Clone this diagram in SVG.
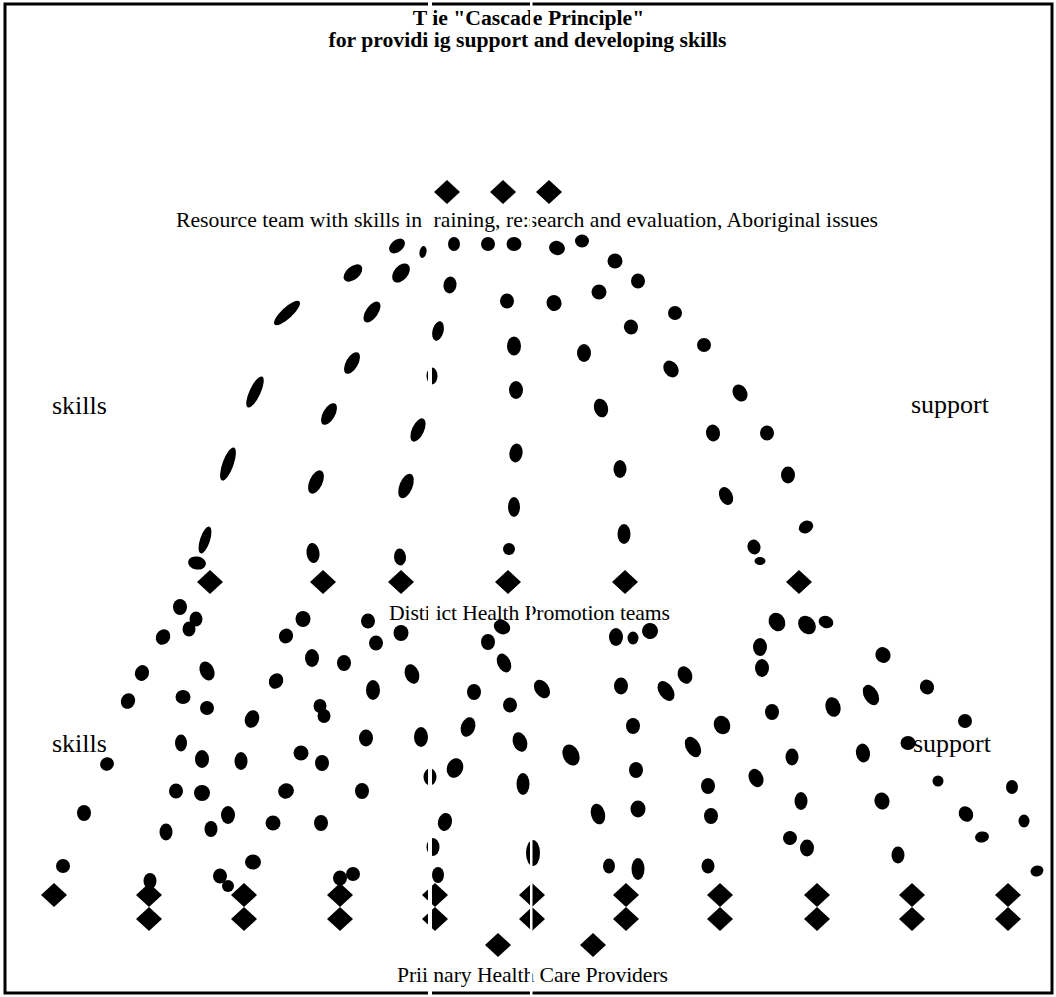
<svg xmlns="http://www.w3.org/2000/svg" xmlns:xlink="http://www.w3.org/1999/xlink" width="1056" height="997" viewBox="0 0 1056 997">
<style>
.t{font-family:"Liberation Serif","Times New Roman",serif;font-size:21.7px;fill:#000}
.bd{font-weight:bold}
.s{font-family:"Liberation Serif","Times New Roman",serif;font-size:26px;fill:#000}
.dots ellipse{fill:#000}
.dm{fill:#000}
.art{fill:#fff}
</style>
<defs>
<path id="dia" d="M0,-12 L13,0 L0,12 L-13,0Z"/>
</defs>
<rect x="5" y="4" width="1047" height="989" fill="#fff" stroke="#000" stroke-width="3"/>
<g id="title">
<text class="t bd" x="528.5" y="25" text-anchor="middle">T ie "Cascade Principle"</text>
<text class="t bd" x="527.5" y="47" text-anchor="middle">for providi ig support and developing skills</text>
</g>
<g id="connectors" class="dots">
<ellipse cx="397" cy="246" rx="9" ry="6" transform="rotate(-40 397 246)"/>
<ellipse cx="423" cy="252" rx="3.5" ry="6" transform="rotate(10 423 252)"/>
<ellipse cx="454" cy="244" rx="6" ry="7"/>
<ellipse cx="488" cy="244" rx="7" ry="7"/>
<ellipse cx="514" cy="244" rx="7.5" ry="7"/>
<ellipse cx="557" cy="248" rx="8" ry="7" transform="rotate(20 557 248)"/>
<ellipse cx="582" cy="241" rx="7" ry="6.5"/>
<ellipse cx="353" cy="273" rx="11" ry="6.5" transform="rotate(-40 353 273)"/>
<ellipse cx="401" cy="273" rx="11" ry="7" transform="rotate(-50 401 273)"/>
<ellipse cx="450" cy="285" rx="6.5" ry="8.5" transform="rotate(10 450 285)"/>
<ellipse cx="507" cy="301" rx="7" ry="7.5"/>
<ellipse cx="554" cy="303" rx="7.5" ry="8" transform="rotate(-20 554 303)"/>
<ellipse cx="599" cy="292" rx="7.5" ry="7.5"/>
<ellipse cx="615" cy="261" rx="7.5" ry="7.5"/>
<ellipse cx="638" cy="281" rx="7" ry="7.5"/>
<ellipse cx="287" cy="313" rx="17" ry="5.5" transform="rotate(-43 287 313)"/>
<ellipse cx="372" cy="312" rx="12" ry="6" transform="rotate(-55 372 312)"/>
<ellipse cx="438" cy="331" rx="5.5" ry="10" transform="rotate(15 438 331)"/>
<ellipse cx="514" cy="346" rx="7" ry="9.5"/>
<ellipse cx="584" cy="353" rx="7" ry="9"/>
<ellipse cx="631" cy="327" rx="7" ry="7.5" transform="rotate(-20 631 327)"/>
<ellipse cx="675" cy="313" rx="7" ry="7"/>
<ellipse cx="704" cy="345" rx="7" ry="7"/>
<ellipse cx="352" cy="363" rx="12" ry="6" transform="rotate(-60 352 363)"/>
<ellipse cx="432" cy="376" rx="5.5" ry="8.5"/>
<ellipse cx="516" cy="390" rx="7" ry="9"/>
<ellipse cx="671" cy="369" rx="7" ry="9" transform="rotate(-35 671 369)"/>
<ellipse cx="740" cy="393" rx="7" ry="9" transform="rotate(-30 740 393)"/>
<ellipse cx="255" cy="392" rx="17" ry="5.5" transform="rotate(-65 255 392)"/>
<ellipse cx="329" cy="414" rx="12" ry="6" transform="rotate(-60 329 414)"/>
<ellipse cx="601" cy="408" rx="7" ry="9.5" transform="rotate(-15 601 408)"/>
<ellipse cx="713" cy="433" rx="7" ry="8.5" transform="rotate(-10 713 433)"/>
<ellipse cx="767" cy="433" rx="7" ry="7.5"/>
<ellipse cx="418" cy="430" rx="12.5" ry="6" transform="rotate(-65 418 430)"/>
<ellipse cx="516" cy="453" rx="6.5" ry="9.5" transform="rotate(10 516 453)"/>
<ellipse cx="228" cy="464" rx="17.5" ry="5.5" transform="rotate(-70 228 464)"/>
<ellipse cx="316" cy="482" rx="12.5" ry="6.5" transform="rotate(-65 316 482)"/>
<ellipse cx="406" cy="486" rx="13" ry="6.5" transform="rotate(-68 406 486)"/>
<ellipse cx="620" cy="469" rx="6.5" ry="9"/>
<ellipse cx="788" cy="475" rx="7" ry="8.5"/>
<ellipse cx="726" cy="496" rx="6.5" ry="9.5" transform="rotate(-25 726 496)"/>
<ellipse cx="514" cy="507" rx="6" ry="10"/>
<ellipse cx="806" cy="527" rx="7.5" ry="6" transform="rotate(-30 806 527)"/>
<ellipse cx="624" cy="534" rx="6.5" ry="10"/>
<ellipse cx="205" cy="540" rx="14" ry="5" transform="rotate(-72 205 540)"/>
<ellipse cx="313" cy="553" rx="6.5" ry="10" transform="rotate(-8 313 553)"/>
<ellipse cx="400" cy="557" rx="6" ry="8.5" transform="rotate(-5 400 557)"/>
<ellipse cx="509" cy="549" rx="6" ry="6"/>
<ellipse cx="754" cy="547" rx="6.5" ry="7.5" transform="rotate(-15 754 547)"/>
<ellipse cx="760" cy="561" rx="5.5" ry="4"/>
<ellipse cx="197" cy="563" rx="9" ry="6.5" transform="rotate(10 197 563)"/>
<ellipse cx="180" cy="607" rx="7" ry="8"/>
<ellipse cx="196" cy="619" rx="6.5" ry="7.5"/>
<ellipse cx="189" cy="629" rx="6.5" ry="7.5"/>
<ellipse cx="163" cy="637" rx="7" ry="8" transform="rotate(30 163 637)"/>
<ellipse cx="303" cy="619" rx="7.5" ry="8"/>
<ellipse cx="286" cy="636" rx="7" ry="7.5" transform="rotate(30 286 636)"/>
<ellipse cx="142" cy="673" rx="7" ry="8" transform="rotate(20 142 673)"/>
<ellipse cx="207" cy="671" rx="7" ry="10" transform="rotate(-25 207 671)"/>
<ellipse cx="312" cy="658" rx="7" ry="9"/>
<ellipse cx="344" cy="663" rx="7" ry="8"/>
<ellipse cx="276" cy="681" rx="7" ry="8" transform="rotate(30 276 681)"/>
<ellipse cx="128" cy="701" rx="7" ry="8" transform="rotate(25 128 701)"/>
<ellipse cx="183" cy="697" rx="7.5" ry="7"/>
<ellipse cx="207" cy="708" rx="7" ry="7"/>
<ellipse cx="252" cy="719" rx="7" ry="9" transform="rotate(20 252 719)"/>
<ellipse cx="320" cy="706" rx="6.5" ry="7"/>
<ellipse cx="324" cy="716" rx="6.5" ry="7"/>
<ellipse cx="181" cy="743" rx="6" ry="8.5"/>
<ellipse cx="202" cy="759" rx="7" ry="9"/>
<ellipse cx="241" cy="761" rx="6.5" ry="9"/>
<ellipse cx="301" cy="753" rx="7.5" ry="7.5"/>
<ellipse cx="322" cy="763" rx="7" ry="8"/>
<ellipse cx="107" cy="764" rx="7" ry="6.5" transform="rotate(-30 107 764)"/>
<ellipse cx="176" cy="791" rx="7" ry="7.5"/>
<ellipse cx="202" cy="793" rx="8" ry="8"/>
<ellipse cx="286" cy="791" rx="8" ry="7.5" transform="rotate(-30 286 791)"/>
<ellipse cx="362" cy="791" rx="7" ry="8"/>
<ellipse cx="84" cy="813" rx="7" ry="8"/>
<ellipse cx="166" cy="832" rx="6.5" ry="8.5"/>
<ellipse cx="211" cy="829" rx="6.5" ry="8"/>
<ellipse cx="228" cy="815" rx="7" ry="9"/>
<ellipse cx="273" cy="823" rx="7.5" ry="7.5"/>
<ellipse cx="321" cy="823" rx="7" ry="8"/>
<ellipse cx="63" cy="866" rx="7" ry="7"/>
<ellipse cx="253" cy="862" rx="8" ry="7.5"/>
<ellipse cx="150" cy="881" rx="6.5" ry="8"/>
<ellipse cx="220" cy="876" rx="7" ry="7.5"/>
<ellipse cx="228" cy="886" rx="6" ry="6"/>
<ellipse cx="340" cy="878" rx="7" ry="7.5"/>
<ellipse cx="353" cy="874" rx="7" ry="7"/>
<ellipse cx="368" cy="621" rx="7" ry="7.5"/>
<ellipse cx="401" cy="633" rx="7.5" ry="8"/>
<ellipse cx="376" cy="643" rx="7" ry="7.5"/>
<ellipse cx="412" cy="674" rx="7" ry="10" transform="rotate(-20 412 674)"/>
<ellipse cx="373" cy="690" rx="7" ry="10"/>
<ellipse cx="502" cy="627" rx="8.5" ry="7" transform="rotate(30 502 627)"/>
<ellipse cx="488" cy="642" rx="7" ry="8"/>
<ellipse cx="504" cy="663" rx="6.5" ry="10" transform="rotate(-25 504 663)"/>
<ellipse cx="474" cy="692" rx="7" ry="8"/>
<ellipse cx="542" cy="689" rx="7" ry="10" transform="rotate(-35 542 689)"/>
<ellipse cx="510" cy="705" rx="7" ry="7.5"/>
<ellipse cx="616" cy="637" rx="7" ry="9"/>
<ellipse cx="633" cy="638" rx="5.5" ry="6.5"/>
<ellipse cx="650" cy="631" rx="8" ry="8" transform="rotate(-30 650 631)"/>
<ellipse cx="621" cy="686" rx="7" ry="8.5"/>
<ellipse cx="666" cy="691" rx="7" ry="11" transform="rotate(-35 666 691)"/>
<ellipse cx="685" cy="675" rx="7" ry="9" transform="rotate(-25 685 675)"/>
<ellipse cx="366" cy="738" rx="7" ry="8.5"/>
<ellipse cx="421" cy="737" rx="7" ry="10"/>
<ellipse cx="468" cy="727" rx="7" ry="10" transform="rotate(20 468 727)"/>
<ellipse cx="520" cy="742" rx="7" ry="10" transform="rotate(-20 520 742)"/>
<ellipse cx="571" cy="755" rx="8" ry="11" transform="rotate(-25 571 755)"/>
<ellipse cx="633" cy="726" rx="7" ry="8"/>
<ellipse cx="693" cy="747" rx="7" ry="11" transform="rotate(-30 693 747)"/>
<ellipse cx="430" cy="777" rx="6.5" ry="8.5"/>
<ellipse cx="455" cy="768" rx="8" ry="10" transform="rotate(20 455 768)"/>
<ellipse cx="523" cy="784" rx="6.5" ry="11"/>
<ellipse cx="636" cy="770" rx="7" ry="8"/>
<ellipse cx="445" cy="822" rx="7" ry="9" transform="rotate(15 445 822)"/>
<ellipse cx="598" cy="814" rx="7" ry="10.5" transform="rotate(-15 598 814)"/>
<ellipse cx="638" cy="809" rx="7.5" ry="8.5"/>
<ellipse cx="433" cy="847" rx="6.5" ry="9"/>
<ellipse cx="533" cy="853" rx="7" ry="13"/>
<ellipse cx="609" cy="866" rx="6" ry="7.5"/>
<ellipse cx="638" cy="869" rx="6.5" ry="11"/>
<ellipse cx="438" cy="875" rx="6" ry="8"/>
<ellipse cx="777" cy="622" rx="8" ry="9.5" transform="rotate(-30 777 622)"/>
<ellipse cx="807" cy="625" rx="8" ry="10" transform="rotate(-40 807 625)"/>
<ellipse cx="826" cy="622" rx="7.5" ry="6" transform="rotate(20 826 622)"/>
<ellipse cx="760" cy="647" rx="7" ry="9"/>
<ellipse cx="762" cy="668" rx="7" ry="9"/>
<ellipse cx="883" cy="655" rx="7.5" ry="8" transform="rotate(-30 883 655)"/>
<ellipse cx="871" cy="695" rx="7" ry="11" transform="rotate(-30 871 695)"/>
<ellipse cx="927" cy="687" rx="7" ry="7.5" transform="rotate(-30 927 687)"/>
<ellipse cx="772" cy="712" rx="7" ry="8"/>
<ellipse cx="833" cy="707" rx="7.5" ry="10" transform="rotate(-15 833 707)"/>
<ellipse cx="722" cy="725" rx="8" ry="9.5" transform="rotate(-25 722 725)"/>
<ellipse cx="965" cy="721" rx="7" ry="7"/>
<ellipse cx="792" cy="757" rx="6.5" ry="8.5"/>
<ellipse cx="863" cy="753" rx="7" ry="9.5" transform="rotate(-10 863 753)"/>
<ellipse cx="908" cy="743" rx="7.5" ry="7"/>
<ellipse cx="756" cy="778" rx="7" ry="9.5" transform="rotate(-25 756 778)"/>
<ellipse cx="708" cy="786" rx="7" ry="8"/>
<ellipse cx="801" cy="801" rx="6.5" ry="9"/>
<ellipse cx="882" cy="801" rx="7.5" ry="8.5" transform="rotate(-15 882 801)"/>
<ellipse cx="938" cy="781" rx="5.5" ry="5.5"/>
<ellipse cx="1012" cy="787" rx="6" ry="7"/>
<ellipse cx="711" cy="816" rx="7" ry="8"/>
<ellipse cx="966" cy="814" rx="7" ry="8" transform="rotate(-30 966 814)"/>
<ellipse cx="1024" cy="821" rx="5.5" ry="6.5"/>
<ellipse cx="790" cy="838" rx="7" ry="7" transform="rotate(-30 790 838)"/>
<ellipse cx="807" cy="848" rx="7" ry="8.5"/>
<ellipse cx="982" cy="837" rx="7" ry="5.5" transform="rotate(-10 982 837)"/>
<ellipse cx="898" cy="855" rx="6.5" ry="8.5"/>
<ellipse cx="708" cy="866" rx="6.5" ry="7.5"/>
<ellipse cx="1037" cy="871" rx="6.5" ry="5.5" transform="rotate(-15 1037 871)"/>
</g>
<g id="resource-team">
<use xlink:href="#dia" class="dm" x="447" y="192"/>
<use xlink:href="#dia" class="dm" x="503" y="192"/>
<use xlink:href="#dia" class="dm" x="549" y="192"/>
<text class="t" x="176" y="227" textLength="702" lengthAdjust="spacing">Resource team with skills in :raining, re:search and evaluation, Aboriginal issues</text>
</g>
<g id="district-teams">
<use xlink:href="#dia" class="dm" x="210" y="582"/>
<use xlink:href="#dia" class="dm" x="323" y="582"/>
<use xlink:href="#dia" class="dm" x="401" y="582"/>
<use xlink:href="#dia" class="dm" x="508" y="582"/>
<use xlink:href="#dia" class="dm" x="625" y="582"/>
<use xlink:href="#dia" class="dm" x="799" y="582"/>
<text class="t" x="389" y="620" textLength="281" lengthAdjust="spacing">Disti ict Health Promotion teams</text>
</g>
<g id="primary-providers">
<use xlink:href="#dia" class="dm" x="54" y="895"/>
<use xlink:href="#dia" class="dm" x="149" y="895"/>
<use xlink:href="#dia" class="dm" x="244" y="895"/>
<use xlink:href="#dia" class="dm" x="340" y="895"/>
<use xlink:href="#dia" class="dm" x="435" y="895"/>
<use xlink:href="#dia" class="dm" x="532" y="895"/>
<use xlink:href="#dia" class="dm" x="626" y="895"/>
<use xlink:href="#dia" class="dm" x="720" y="895"/>
<use xlink:href="#dia" class="dm" x="817" y="895"/>
<use xlink:href="#dia" class="dm" x="912" y="895"/>
<use xlink:href="#dia" class="dm" x="1008" y="895"/>
<use xlink:href="#dia" class="dm" x="149" y="919"/>
<use xlink:href="#dia" class="dm" x="244" y="919"/>
<use xlink:href="#dia" class="dm" x="340" y="919"/>
<use xlink:href="#dia" class="dm" x="435" y="919"/>
<use xlink:href="#dia" class="dm" x="532" y="919"/>
<use xlink:href="#dia" class="dm" x="626" y="919"/>
<use xlink:href="#dia" class="dm" x="720" y="919"/>
<use xlink:href="#dia" class="dm" x="817" y="919"/>
<use xlink:href="#dia" class="dm" x="912" y="919"/>
<use xlink:href="#dia" class="dm" x="1008" y="919"/>
<use xlink:href="#dia" class="dm" x="498" y="945"/>
<use xlink:href="#dia" class="dm" x="593" y="945"/>
<text class="t" x="397" y="982" textLength="271" lengthAdjust="spacing">Prii nary Health Care Providers</text>
</g>
<g id="label-skills-upper"><text class="s" x="52" y="414">skills</text></g>
<g id="label-support-upper"><text class="s" x="911" y="413">support</text></g>
<g id="label-skills-lower"><text class="s" x="52" y="752">skills</text></g>
<g id="label-support-lower"><text class="s" x="913" y="752">support</text></g>
<rect class="art" x="428" y="0" width="4" height="997"/>
<rect class="art" x="530" y="0" width="2.5" height="997"/>
</svg>
